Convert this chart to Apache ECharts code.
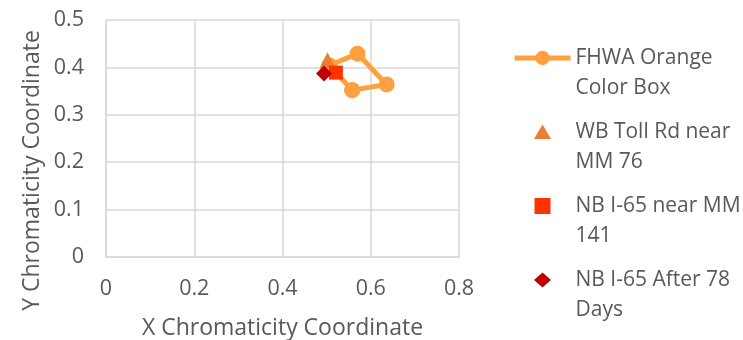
<!DOCTYPE html>
<html>
<head>
<meta charset="utf-8">
<style>
  html, body { margin: 0; padding: 0; background: #ffffff; }
  #chart { width: 743px; height: 340px; }
</style>
<script src="https://cdn.jsdelivr.net/npm/echarts@6/dist/echarts.min.js"></script>
</head>
<body>
<div id="chart"></div>
<script>
// Series names as shown in the legend
const seriesNames = [
  'FHWA Orange Color Box',
  'WB Toll Rd near MM 76',
  'NB I-65 near MM 141',
  'NB I-65 After 78 Days'
];
// Legend labels split over two lines
const legendLines = {
  'FHWA Orange Color Box': ['FHWA Orange', 'Color Box'],
  'WB Toll Rd near MM 76': ['WB Toll Rd near', 'MM 76'],
  'NB I-65 near MM 141': ['NB I-65 near MM', '141'],
  'NB I-65 After 78 Days': ['NB I-65 After 78', 'Days']
};

// Orange colour box corners (x, y), closed back to the first corner
const boxX = [0.558, 0.636, 0.570, 0.506, 0.558];
const boxY = [0.352, 0.364, 0.429, 0.404, 0.352];

// Measured chromaticity of the sign samples
const tollRdPoint = [0.502, 0.415];
const i65Point = [0.521, 0.389];
const i65After78Point = [0.494, 0.387];

// Axis ticks
const xTicks = [0, 0.2, 0.4, 0.6, 0.8];
const yTicks = [0, 0.1, 0.2, 0.3, 0.4, 0.5];

const textGray = '#595959';
const gridGray = '#d9d9d9';
const fontFamily = '"Open Sans", "Noto Sans", sans-serif';

const colors = ['#ffa040', '#ed7d31', '#ff3300', '#c00000'];

// Legend marker shapes, drawn inside an 18x18 box so they stay a little
// smaller than the legend item height
const legendIcons = [
  null,
  'path://M0,0M18,18M0.5,16L9,1.5L17.5,16Z',
  'path://M0,0M18,18M1,1L17,1L17,17L1,17Z',
  'path://M0,0M18,18M0.5,9L9,1.5L17.5,9L9,16.5Z'
];

const boxData = boxX.map((x, i) => [x, boxY[i]]);

const chart = echarts.init(document.getElementById('chart'), null, { renderer: 'canvas' });

chart.setOption({
  animation: false,
  backgroundColor: '#ffffff',
  textStyle: { fontFamily: fontFamily },
  grid: {
    left: 106, right: 284, top: 20, bottom: 83,
    containLabel: false,
    outerBoundsMode: 'none'
  },
  xAxis: {
    type: 'value',
    min: xTicks[0],
    max: xTicks[xTicks.length - 1],
    interval: 0.2,
    name: 'X Chromaticity Coordinate',
    nameLocation: 'middle',
    nameGap: 60,
    nameTextStyle: { color: textGray, fontSize: 23, fontFamily: fontFamily },
    axisLine: { show: true, lineStyle: { color: gridGray, width: 1.5 } },
    axisTick: { show: false },
    axisLabel: { color: textGray, fontSize: 21.5, margin: 21, fontFamily: fontFamily },
    splitLine: { show: true, lineStyle: { color: gridGray, width: 1.5 } }
  },
  yAxis: {
    type: 'value',
    min: yTicks[0],
    max: yTicks[yTicks.length - 1],
    interval: 0.1,
    name: 'Y Chromaticity Coordinate',
    nameLocation: 'middle',
    nameGap: 62,
    nameRotate: 90,
    nameTextStyle: { color: textGray, fontSize: 23, fontFamily: fontFamily, padding: [0, 64, 0, 0] },
    axisLine: { show: true, lineStyle: { color: gridGray, width: 1.5 } },
    axisTick: { show: false },
    axisLabel: { color: textGray, fontSize: 21.5, margin: 22, fontFamily: fontFamily },
    splitLine: { show: true, lineStyle: { color: gridGray, width: 1.5 } }
  },
  legend: {
    orient: 'vertical',
    left: 512,
    top: 13,
    padding: 0,
    itemWidth: 56,
    itemHeight: 18,
    itemGap: -16,
    data: seriesNames.map((name, i) => {
      const item = { name: name };
      if (legendIcons[i]) item.icon = legendIcons[i];
      else item.lineStyle = { width: 5 };
      return item;
    }),
    // a blank first line keeps the first text line level with the icon
    formatter: name => '\n' + legendLines[name].join('\n'),
    textStyle: {
      color: textGray,
      fontSize: 21,
      lineHeight: 30,
      fontFamily: fontFamily
    }
  },
  series: [
    {
      name: seriesNames[0],
      type: 'line',
      data: boxData,
      symbol: 'circle',
      symbolSize: 16,
      color: colors[0],
      lineStyle: { color: colors[0], width: 5 },
      itemStyle: { color: colors[0] },
      z: 2
    },
    {
      name: seriesNames[1],
      type: 'scatter',
      data: [tollRdPoint],
      symbol: 'triangle',
      symbolSize: 16,
      itemStyle: { color: colors[1], opacity: 1 },
      z: 3
    },
    {
      name: seriesNames[2],
      type: 'scatter',
      data: [i65Point],
      symbol: 'rect',
      symbolSize: 14,
      itemStyle: { color: colors[2], opacity: 1 },
      z: 4
    },
    {
      name: seriesNames[3],
      type: 'scatter',
      data: [i65After78Point],
      symbol: 'diamond',
      symbolSize: 16,
      itemStyle: { color: colors[3], opacity: 1 },
      z: 5
    }
  ]
});
</script>
</body>
</html>
